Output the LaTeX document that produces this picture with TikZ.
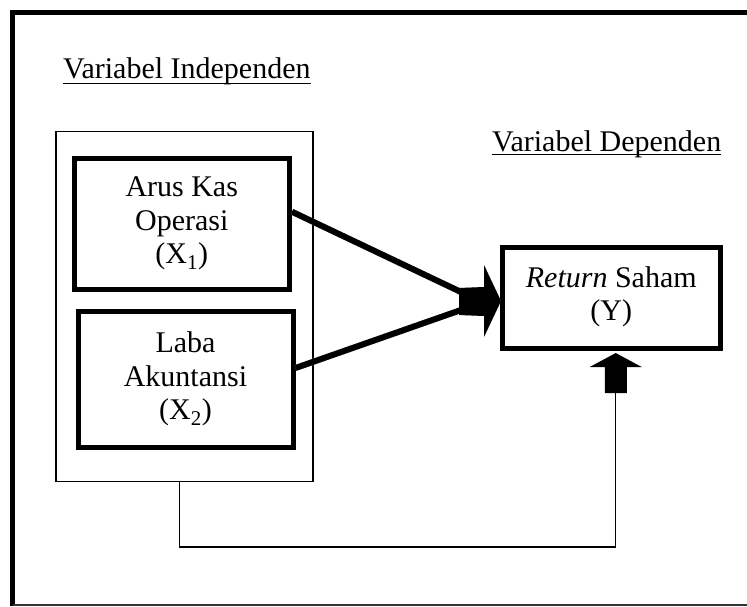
\documentclass[tikz,border=0pt]{standalone}
\usepackage{fontspec}
\setmainfont{Liberation Serif}
\usetikzlibrary{calc}
\begin{document}
\begin{tikzpicture}[x=1pt,y=-1pt,
  every node/.style={font=\fontsize{30}{33.5}\selectfont},
  varbox/.style={draw, line width=5pt, align=center, inner sep=0pt},
  thin/.style={line width=1.3pt},
  lbl/.style={anchor=base west, inner sep=0pt},
  shadow/.style={gray!55},
]
\useasboundingbox (0,0) rectangle (747,606);
% outer frame
\draw[line width=5pt] (12.5,606) -- (12.5,12.5) -- (747,12.5);
\draw[line width=1.2pt, black!80] (12.5,605) -- (747,605);

% titles
\node[lbl] (ti) at (63,78) {Variabel Independen};
\draw[line width=1.5pt] ($(ti.base west)+(0,5.5)$) -- ($(ti.base east)+(0,5.5)$);
\node[lbl] (td) at (492,151) {Variabel Dependen};
\draw[line width=1.5pt] ($(td.base west)+(0,3.5)$) -- ($(td.base east)+(0,3.5)$);

% group rectangle
\node[draw, thin, minimum width=257pt, minimum height=350pt, inner sep=0pt] (grp) at (184.5,306.2) {};

% boxes
\node[varbox, minimum width=215.5pt, minimum height=130.5pt] (b1) at (181.75,223.75)
  {Arus Kas\\Operasi\\(X\textsubscript{1})};
\node[varbox, minimum width=215pt, minimum height=136pt] (b2) at (185.5,379)
  {Laba\\Akuntansi\\(X\textsubscript{2})};
\node[varbox, minimum width=217.5pt, minimum height=101pt] (ret) at (611.25,298)
  {\textit{Return} Saham\\(Y)\rule[-9pt]{0pt}{1pt}};

% converging arrows
\coordinate (tip) at ($(ret.west)+(1,3)$);
\coordinate (s1) at ($(b1.east)+(0,-12)$);
\coordinate (s2) at ($(b2.east)+(0,-11)$);
\coordinate (e1) at ($(tip)+(-40,-9)$);
\coordinate (e2) at ($(tip)+(-40,9)$);
\begin{scope}[shift={(1,2.5)}]
  \draw[shadow, line width=6pt] (s1) -- (e1);
  \draw[shadow, line width=6pt] (s2) -- (e2);
  \fill[shadow] ($(tip)+(-42,-13)$) -- ($(tip)+(-17,-14)$) -- ($(tip)+(-17,-36)$) -- (tip)
    -- ($(tip)+(-17,36)$) -- ($(tip)+(-17,15)$) -- ($(tip)+(-42,14)$) -- cycle;
\end{scope}
\draw[line width=6pt] (s1) -- (e1);
\draw[line width=6pt] (s2) -- (e2);
\fill ($(tip)+(-42,-13)$) -- ($(tip)+(-17,-14)$) -- ($(tip)+(-17,-36)$) -- (tip)
  -- ($(tip)+(-17,36)$) -- ($(tip)+(-17,15)$) -- ($(tip)+(-42,14)$) -- cycle;

% up arrow
\coordinate (utip) at ($(ret.south)+(4.5,2)$);
\coordinate (ubot) at ($(utip)+(0,40)$);
\fill (utip) -- ($(utip)+(26,14)$) -- ($(utip)+(11,14)$) -- ($(utip)+(11,40)$)
  -- ($(utip)+(-11,40)$) -- ($(utip)+(-11,14)$) -- ($(utip)+(-26,14)$) -- cycle;

% feedback connector
\coordinate (c0) at ($(grp.south west)+(124,0)$);
\coordinate (corner) at ($(c0)+(0,65)$);
\draw[thin] (c0) -- (corner) -| (ubot);
\end{tikzpicture}
\end{document}
